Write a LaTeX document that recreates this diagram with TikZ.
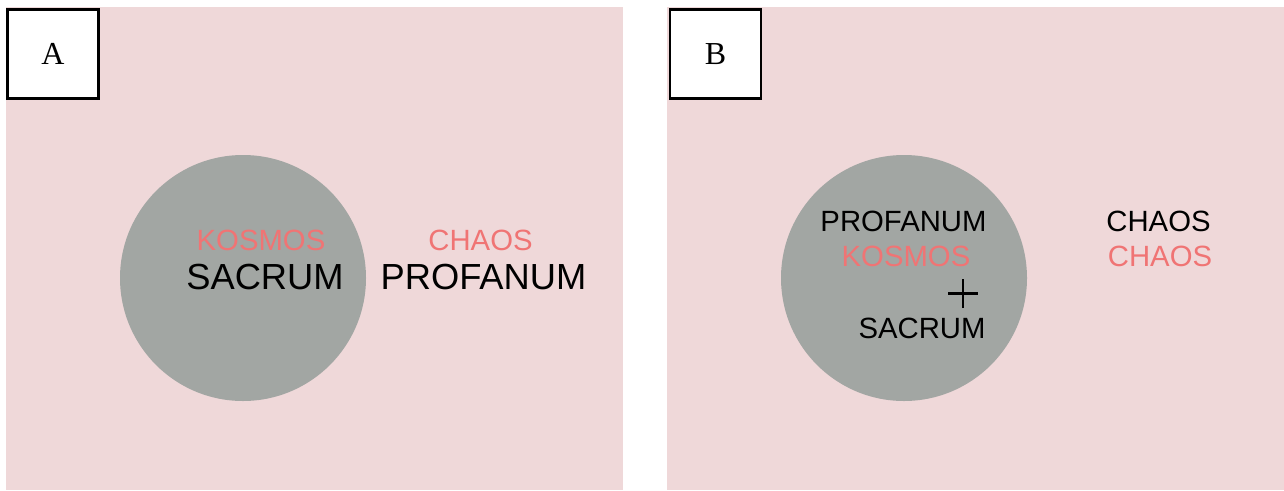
\documentclass[tikz,border=0pt]{standalone}
\usepackage{fontspec}
\setmainfont{Liberation Serif}
\setsansfont{Liberation Sans}
\definecolor{bgpink}{HTML}{EFD8D9}
\definecolor{discgray}{HTML}{A2A6A3}
\definecolor{salmon}{HTML}{F07474}
\begin{document}
\begin{tikzpicture}[x=1pt,y=-1pt,
  panel/.style={fill=bgpink,draw=none},
  disc/.style={circle,fill=discgray,draw=none,minimum size=246pt,inner sep=0pt},
  labelbox/.style={draw=black,line width=2.5pt,fill=white,minimum width=91pt,minimum height=89pt,inner sep=0pt,font=\fontsize{32}{32}\selectfont},
  small/.style={font=\sffamily\fontsize{29.3}{30}\selectfont,inner sep=0pt,anchor=base},
  big/.style={font=\sffamily\fontsize{36.3}{38}\selectfont,inner sep=0pt,anchor=base},
  plusmark/.style={line width=2.2pt,black},
  red/.style={text=salmon},
  blk/.style={text=black}]
\useasboundingbox (0,0) rectangle (1284,490);
\fill[white] (0,0) rectangle (1284,490);
% panels
\path[panel] (6,7) rectangle (623,490);
\path[panel] (667,7) rectangle (1284,490);
% panel A
\node[disc] (dA) at (243,278) {};
\node[labelbox] (bA) at (53,54) {A};
\node[small,red] (kA) at (261,250) {KOSMOS};
\node[big,blk] (sA) at (265,289) {SACRUM};
\node[small,red] (cA) at (480.5,250) {CHAOS};
\node[big,blk] (pA) at (483.5,289) {PROFANUM};
% panel B
\node[disc] (dB) at (904,278) {};
\node[labelbox] (bB) at (715.5,54) {B};
\node[small,blk] (pB) at (903.5,231) {PROFANUM};
\node[small,red] (kB) at (906,266) {KOSMOS};
\coordinate (plB) at (963,293.5);
\draw[plusmark] ([xshift=-15pt]plB) -- ([xshift=15pt]plB);
\draw[plusmark] ([yshift=-14.5pt]plB) -- ([yshift=14.5pt]plB);
\node[small,blk] (sB) at (922,338) {SACRUM};
\node[small,blk] (cB1) at (1158.5,231) {CHAOS};
\node[small,red] (cB2) at (1160,266) {CHAOS};
\end{tikzpicture}
\end{document}
